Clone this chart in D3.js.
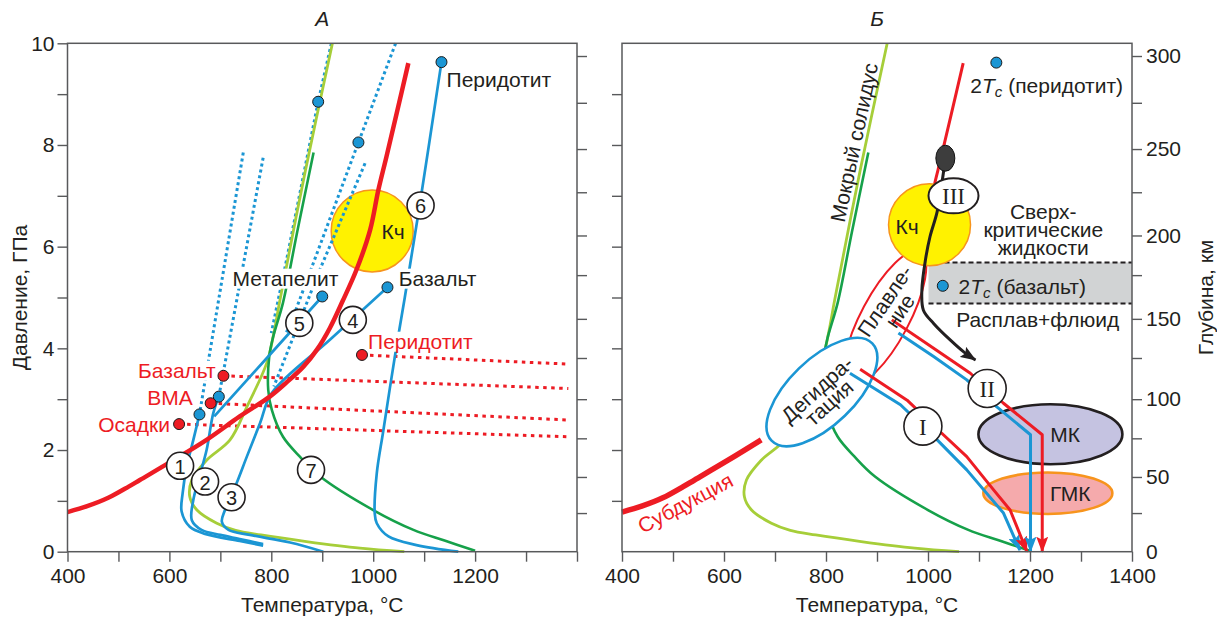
<!DOCTYPE html>
<html>
<head>
<meta charset="utf-8">
<script src="https://cdn.jsdelivr.net/npm/d3@7"></script>
<style>
  body { margin: 0; background: #fff; }
  svg { display: block; font-family: "Liberation Sans", Arial, sans-serif; }
</style>
</head>
<body>
<svg id="chart" width="1217" height="617"></svg>
<script>
// ---- оси ----
const tempTicks   = [400, 500, 600, 700, 800, 900, 1000, 1100, 1200, 1300, 1400];
const tempLabelsA = [400, 600, 800, 1000, 1200];
const tempLabelsB = [400, 600, 800, 1000, 1200, 1400];
const pressTicks  = [0, 1, 2, 3, 4, 5, 6, 7, 8, 9, 10];
const pressLabels = [0, 2, 4, 6, 8, 10];
// глубина (км) и соответствующее давление (ГПа)
const depthKm     = [0, 25, 50, 75, 100, 125, 150, 175, 200, 225, 250, 275, 300];
const depthP      = [0, 0.76, 1.47, 2.23, 3.0, 3.81, 4.58, 5.44, 6.22, 7.07, 7.92, 8.83, 9.75];
const depthLabels = [0, 50, 100, 150, 200, 250, 300];

// ---- кривые [T, P] ----
const slabTop = [[400,0.78],[440,0.90],[480,1.06],[520,1.28],[542,1.41],[608,1.80],[673,2.20],[738,2.66],
  [797,3.05],[830,3.33],[863,3.64],[890,3.98],[915,4.40],[940,4.93],[967,5.54],[994,6.33],[1010,7.11],
  [1026,7.77],[1046,8.62],[1069,9.61]];
const wetSolidus = [[920,10],[867,7.5],[817,4.95],[805,4.3],[791,3.71],[752,2.85],[719,2.2],[673,1.80],
  [644,1.41],[640,1.08],[654,0.82],[693,0.56],[730,0.42],[780,0.33],[869,0.2],[974,0.07],[1061,0]];
const curve7 = [[883,7.85],[851,6.3],[823,4.9],[803,4.2],[796,3.84],[794,3.18],[801,2.79],[823,2.26],
  [856,1.87],[896,1.48],[1000,0.82],[1079,0.43],[1140,0.22],[1200,0.02]];
const curve1 = [[659,2.70],[647,2.20],[634,1.67],[626,1.15],[624,0.79],[640,0.49],[670,0.35],[738,0.21],[784,0.12]];
const curve2 = [[697,3.05],[686,2.72],[673,2.0],[657,1.41],[647,1.02],[644,0.62],[663,0.43],[700,0.33],[738,0.25],[784,0.15]];
const curve3 = [[1028,5.20],[915,4.17],[801,3.12],[778,2.53],[752,1.87],[732,1.35],[709,0.82],[703,0.59],
  [716,0.43],[758,0.33],[837,0.18],[902,0.0]];
const curve5 = [[688,2.66],[794,3.84],[900,5.02]];
const curve6 = [[1134,9.63],[1091,6.8],[1062,5.0],[1043,3.87],[1020,2.39],[1007,1.54],[1003,0.76],
  [1007,0.56],[1030,0.30],[1085,0.13],[1167,0]];
const dottedA = [
  [[745,7.85],[659,2.70]],
  [[784,7.75],[697,3.05]],
  [[918,10],[892,8.85],[830,5.74],[800,4.3]],
  [[1044,10],[971,8.05],[836,4.43],[827,4.27]],
  [[984,7.64],[895,5.54],[805,3.25]]
];
const critA = [[892,8.85],[971,8.05],[1134,9.63],[900,5.02],[1028,5.20],[659,2.70],[697,3.05]];

// флюид-насыщенные солидусы (красный пунктир)
const fluidNames = ["Перидотит", "Базальт", "ВМА", "Осадки"];
const fluidStart = [[978,3.87],[706,3.46],[681,2.92],[619,2.51]];
const fluidEnd   = [[1383,3.69],[1383,3.21],[1383,2.59],[1383,2.26]];

const numLabels = ["1", "2", "3", "4", "5", "6", "7"];
const numPos    = [[621,1.69],[670,1.38],[722,1.07],[960,4.56],[855,4.50],[1093,6.81],[878,1.61]];

const kchA = [998, 6.31];
const kchB = [1003, 6.43];

// ---- панель Б ----
const pathIred   = [[867,3.59],[959,2.98],[1027,2.33],[1076,1.87],[1129,1.21],[1161,0.82],[1194,0.0]];
const pathIblue  = [[847,3.51],[946,2.89],[1018,2.2],[1076,1.61],[1148,0.76],[1180,0.03]];
const pathIIred  = [[929,4.56],[1011,4.0],[1083,3.51],[1148,2.92],[1224,2.3],[1224,0.0]];
const pathIIblue = [[942,4.3],[1011,3.84],[1076,3.38],[1135,2.85],[1201,2.3],[1201,0.0]];
const pathIII    = [[1034,7.74],[1030,7.44],[1018,6.69],[1004,6.2],[995,5.74],[988,5.15],[991,4.75],
  [1011,4.49],[1044,4.16],[1070,3.93],[1093,3.77]];
const scfBand  = [4.88, 5.69];
const scfBandT = 1001;
const critB    = [[1029,5.23],[1134,9.62]];
const blobPos  = [1034, 7.74];
const roman     = ["I", "II", "III"];
const romanPos  = [[990,2.47],[1116,3.21],[1050,7.0]];
const dehydPos  = [792, 3.14];
const meltPos   = [916, 4.6];
const mkPos     = [1240, 2.31];
const gmkPos    = [1235, 1.15];

// ---- цвета ----
const BLUE = '#1b96d4', RED = '#ed1c24', LGREEN = '#a6ce39', DGREEN = '#16a14a',
      INK = '#231f20', FRAME = '#58595b', YEL = '#fff200', ORANGE = '#f7941d';

const svg = d3.select('#chart');

const xA = d3.scaleLinear().domain([400, 1400]).range([67.5, 577]);
const xB = d3.scaleLinear().domain([400, 1400]).range([622, 1132]);
const y  = d3.scaleLinear().domain([0, 10]).range([551.7, 43.3]);

const smooth = d3.curveCatmullRom.alpha(0.5);
const mkLine = (x, c) => d3.line().x(d => x(d[0])).y(d => y(d[1])).curve(c || smooth);
const lineA = mkLine(xA), lineB = mkLine(xB), linA = mkLine(xA, d3.curveLinear), linB = mkLine(xB, d3.curveLinear);

// стрелки
const defs = svg.append('defs');
[['arrRed', RED], ['arrBlue', BLUE], ['arrBlack', INK]].forEach(([id, c]) => {
  defs.append('marker').attr('id', id)
    .attr('viewBox', '0 0 16 12').attr('refX', 15).attr('refY', 6)
    .attr('markerWidth', 16).attr('markerHeight', 12)
    .attr('markerUnits', 'userSpaceOnUse').attr('orient', 'auto')
    .append('path').attr('d', 'M0,0 L16,6 L0,12 L3,6 z').attr('fill', c);
});

function curvePath(g, gen, data, color, width, dash) {
  const p = g.append('path').attr('d', gen(data)).attr('fill', 'none')
    .attr('stroke', color).attr('stroke-width', width)
    .attr('stroke-linejoin', 'round');
  if (dash) p.attr('stroke-dasharray', dash);
  return p;
}

function label(g, x, yy, txt, o = {}) {
  const t = g.append('text').attr('x', x).attr('y', yy)
    .attr('text-anchor', o.anchor || 'start')
    .attr('dominant-baseline', 'central')
    .attr('font-size', o.size || 21)
    .attr('fill', o.color || INK)
    .text(txt);
  if (o.bg) {
    const b = t.node().getBBox();
    g.insert('rect', () => t.node())
      .attr('x', b.x - 1).attr('y', b.y + 2)
      .attr('width', b.width + 2).attr('height', b.height - 3)
      .attr('fill', '#fff');
  }
  return t;
}

// многострочная подпись одним элементом text
function multiLabel(g, x, yy, lines, step, ang) {
  const t = g.append('text')
    .attr('transform', `translate(${x},${yy}) rotate(${ang || 0})`)
    .attr('text-anchor', 'middle').attr('font-size', 21).attr('fill', INK);
  lines.forEach((s, i) => t.append('tspan').attr('x', 0).attr('dy', i ? step : 7).text(s));
  return t;
}

function rotLabel(g, x, yy, ang, txt, o = {}) {
  return g.append('text')
    .attr('transform', `translate(${x},${yy}) rotate(${ang})`)
    .attr('text-anchor', 'middle').attr('dominant-baseline', 'central')
    .attr('font-size', o.size || 21).attr('fill', o.color || INK)
    .text(txt);
}

function tcLabel(g, x, yy, rest) {
  const t = g.append('text').attr('x', x).attr('y', yy)
    .attr('font-size', 21).attr('fill', INK).attr('dominant-baseline', 'central');
  t.append('tspan').text('2');
  t.append('tspan').attr('font-style', 'italic').text('T');
  t.append('tspan').attr('font-style', 'italic').attr('font-size', 15).attr('dy', 6).text('c');
  t.append('tspan').attr('dy', -6).text('\u00a0' + rest);
}

function dot(g, x, yy, fill) {
  g.append('circle').attr('cx', x).attr('cy', yy).attr('r', 5.5)
    .attr('fill', fill).attr('stroke', '#1a1a1a').attr('stroke-width', 1);
}

function axesFor(x, labelsX, left, right) {
  const g = svg.append('g').attr('font-size', 21);
  const styleAxis = sel => {
    sel.select('.domain').remove();
    sel.selectAll('.tick line').attr('stroke', FRAME).attr('stroke-width', 1.4);
    sel.selectAll('.tick text').attr('fill', INK).attr('font-size', 21)
      .attr('font-family', '"Liberation Sans", Arial, sans-serif');
  };
  g.append('g').attr('transform', `translate(0,${y(0)})`)
    .call(d3.axisBottom(x).tickValues(tempTicks).tickSize(10).tickPadding(6)
      .tickFormat(d => labelsX.includes(d) ? d : ''))
    .call(styleAxis);
  g.append('g').attr('transform', `translate(${x(400)},0)`)
    .call(d3.axisLeft(y).tickValues(left ? pressTicks : pressTicks.slice(1, -1)).tickSize(10).tickPadding(3)
      .tickFormat(d => left && pressLabels.includes(d) ? d : ''))
    .call(styleAxis);
  g.append('g').attr('transform', `translate(${x(1400)},0)`)
    .call(d3.axisRight(y).tickValues(depthP.slice(1)).tickSize(10).tickPadding(4)
      .tickFormat((d, i) => right && depthLabels.includes(depthKm[i + 1]) ? depthKm[i + 1] : ''))
    .call(styleAxis);
  if (right) {
    g.append('text').attr('x', x(1400) + 14).attr('y', y(0)).attr('dominant-baseline', 'central')
      .attr('font-size', 21).attr('fill', INK).text(depthLabels[0]);
  }
  svg.append('rect').attr('x', x(400)).attr('y', y(10))
    .attr('width', x(1400) - x(400)).attr('height', y(0) - y(10))
    .attr('fill', 'none').attr('stroke', FRAME).attr('stroke-width', 1.5);
  g.append('text').attr('x', (x(400) + x(1400)) / 2).attr('y', 604)
    .attr('text-anchor', 'middle').attr('dominant-baseline', 'central')
    .attr('fill', INK).text('Температура, °С');
}

// ================= ПАНЕЛЬ А =================
const gA = svg.append('g');

gA.append('circle').attr('cx', xA(kchA[0])).attr('cy', y(kchA[1])).attr('r', 41)
  .attr('fill', YEL).attr('stroke', ORANGE).attr('stroke-width', 1.5);

fluidStart.forEach((s, i) => {
  gA.append('line')
    .attr('x1', xA(s[0])).attr('y1', y(s[1]))
    .attr('x2', xA(fluidEnd[i][0])).attr('y2', y(fluidEnd[i][1]))
    .attr('stroke', RED).attr('stroke-width', 3).attr('stroke-dasharray', '3.5,4.5');
});

dottedA.forEach(d => curvePath(gA, linA, d, BLUE, 3, '3,3'));

curvePath(gA, lineA, wetSolidus, LGREEN, 2.8);
curvePath(gA, lineA, curve7, DGREEN, 2.6);

[curve1, curve2, curve3, curve6].forEach(c => curvePath(gA, lineA, c, BLUE, 2.7));
curvePath(gA, linA, curve5, BLUE, 2.7);

curvePath(gA, lineA, slabTop, RED, 4.5).attr('stroke-linecap', 'butt');

critA.forEach(d => dot(gA, xA(d[0]), y(d[1]), BLUE));
fluidStart.forEach(d => dot(gA, xA(d[0]), y(d[1]), RED));

numPos.forEach((p, i) => {
  gA.append('circle').attr('cx', xA(p[0])).attr('cy', y(p[1])).attr('r', 13.5)
    .attr('fill', '#fff').attr('stroke', INK).attr('stroke-width', 1.6);
  gA.append('text').attr('x', xA(p[0])).attr('y', y(p[1]) + 1)
    .attr('text-anchor', 'middle').attr('dominant-baseline', 'central')
    .attr('font-size', 20).attr('fill', INK).text(numLabels[i]);
});

label(gA, xA(1039), y(6.29), 'Кч', { anchor: 'middle' });
label(gA, xA(1144), y(9.28), 'Перидотит', { bg: true });
label(gA, xA(724), y(5.38), 'Метапелит', { bg: true });
label(gA, xA(1050), y(5.38), 'Базальт', { bg: true });
label(gA, xA(990), y(4.14), fluidNames[0], { color: RED, bg: true });
label(gA, xA(691), y(3.57), fluidNames[1], { color: RED, anchor: 'end', bg: true });
label(gA, xA(646), y(3.04), fluidNames[2], { color: RED, anchor: 'end', bg: true });
label(gA, xA(601), y(2.51), fluidNames[3], { color: RED, anchor: 'end', bg: true });

axesFor(xA, tempLabelsA, true, false);

// ================= ПАНЕЛЬ Б =================
const gB = svg.append('g');

gB.append('rect').attr('x', xB(scfBandT)).attr('y', y(scfBand[1]))
  .attr('width', xB(1400) - xB(scfBandT)).attr('height', y(scfBand[0]) - y(scfBand[1]))
  .attr('fill', '#d1d3d4');
scfBand.forEach(p => gB.append('line')
  .attr('x1', xB(scfBandT)).attr('x2', xB(1400)).attr('y1', y(p)).attr('y2', y(p))
  .attr('stroke', INK).attr('stroke-width', 2).attr('stroke-dasharray', '5,3'));

curvePath(gB, lineB, wetSolidus, LGREEN, 2.8);
curvePath(gB, lineB, curve7, DGREEN, 2.6);
curvePath(gB, lineB, slabTop.filter(d => d[1] <= 2.3), RED, 5.5).attr('stroke-linecap', 'butt');
curvePath(gB, lineB, slabTop.filter(d => d[1] >= 6.3), RED, 3);

// поле плавления
gB.append('ellipse')
  .attr('transform', `translate(${xB(meltPos[0])},${y(meltPos[1])}) rotate(28)`)
  .attr('rx', 24).attr('ry', 75)
  .attr('fill', 'none').attr('stroke', RED).attr('stroke-width', 2);

gB.append('circle').attr('cx', xB(kchB[0])).attr('cy', y(kchB[1])).attr('r', 41)
  .attr('fill', YEL).attr('stroke', ORANGE).attr('stroke-width', 1.5);

// поле дегидратации
gB.append('ellipse')
  .attr('transform', `translate(${xB(dehydPos[0])},${y(dehydPos[1])}) rotate(-44)`)
  .attr('rx', 70).attr('ry', 33)
  .attr('fill', '#fff').attr('stroke', BLUE).attr('stroke-width', 2.6);

gB.append('ellipse').attr('cx', xB(mkPos[0])).attr('cy', y(mkPos[1])).attr('rx', 72).attr('ry', 30)
  .attr('fill', '#c5c3e1').attr('stroke', INK).attr('stroke-width', 2.6);
gB.append('ellipse').attr('cx', xB(gmkPos[0])).attr('cy', y(gmkPos[1])).attr('rx', 64.5).attr('ry', 20.7)
  .attr('fill', '#f5aaac').attr('stroke', ORANGE).attr('stroke-width', 2.6);

curvePath(gB, linB, pathIblue, BLUE, 3).attr('marker-end', 'url(#arrBlue)');
curvePath(gB, linB, pathIred, RED, 3).attr('marker-end', 'url(#arrRed)');
curvePath(gB, linB, pathIIblue, BLUE, 3).attr('marker-end', 'url(#arrBlue)');
curvePath(gB, linB, pathIIred, RED, 3).attr('marker-end', 'url(#arrRed)');

curvePath(gB, lineB, pathIII, INK, 3).attr('marker-end', 'url(#arrBlack)');
gB.append('ellipse').attr('cx', xB(blobPos[0])).attr('cy', y(blobPos[1])).attr('rx', 9.5).attr('ry', 13)
  .attr('fill', '#3d3d3d').attr('stroke', '#111').attr('stroke-width', 1);

romanPos.forEach((p, i) => {
  const isIII = i === 2;
  gB.append('ellipse').attr('cx', xB(p[0])).attr('cy', y(p[1]))
    .attr('rx', isIII ? 25 : 19).attr('ry', isIII ? 17.5 : 19)
    .attr('fill', '#fff').attr('stroke', INK).attr('stroke-width', isIII ? 2 : 1.6);
  gB.append('text').attr('x', xB(p[0])).attr('y', y(p[1]) + 1)
    .attr('text-anchor', 'middle').attr('dominant-baseline', 'central')
    .attr('font-family', '"Liberation Serif", "Times New Roman", serif')
    .attr('font-size', 23).attr('fill', INK).text(roman[i]);
});

critB.forEach(d => dot(gB, xB(d[0]), y(d[1]), BLUE));

label(gB, xB(959), y(6.39), 'Кч', { anchor: 'middle' });
tcLabel(gB, xB(1060), y(5.23), '(базальт)');
tcLabel(gB, xB(1083), y(9.18), '(перидотит)');
multiLabel(gB, xB(1226), y(6.69), ['Сверх-', 'критические', 'жидкости'], 18.3);
label(gB, xB(1215), y(4.57), 'Расплав+флюид', { anchor: 'middle' });
label(gB, xB(1269), y(2.30), 'МК', { anchor: 'middle' });
label(gB, xB(1279), y(1.15), 'ГМК', { anchor: 'middle' });

rotLabel(gB, xB(855), y(8.05), -78, 'Мокрый солидус');
rotLabel(gB, xB(524), y(0.96), -28, 'Субдукция', { color: RED });
multiLabel(gB, xB(783), y(3.19), ['Дегидра-', 'тация'], 18, -42);
multiLabel(gB, xB(916), y(4.93), ['Плавле-', 'ние'], 18, -56);

axesFor(xB, tempLabelsB, false, true);

// ---- подписи ----
svg.append('text').attr('x', (xA(400) + xA(1400)) / 2).attr('y', 18)
  .attr('text-anchor', 'middle').attr('dominant-baseline', 'central')
  .attr('font-size', 21).attr('font-style', 'italic').attr('fill', INK).text('А');
svg.append('text').attr('x', (xB(400) + xB(1400)) / 2).attr('y', 18)
  .attr('text-anchor', 'middle').attr('dominant-baseline', 'central')
  .attr('font-size', 21).attr('font-style', 'italic').attr('fill', INK).text('Б');
rotLabel(svg, 19, (y(0) + y(10)) / 2, -90, 'Давление, ГПа');
rotLabel(svg, 1205, (y(0) + y(10)) / 2, -90, 'Глубина, км');
</script>
</body>
</html>
